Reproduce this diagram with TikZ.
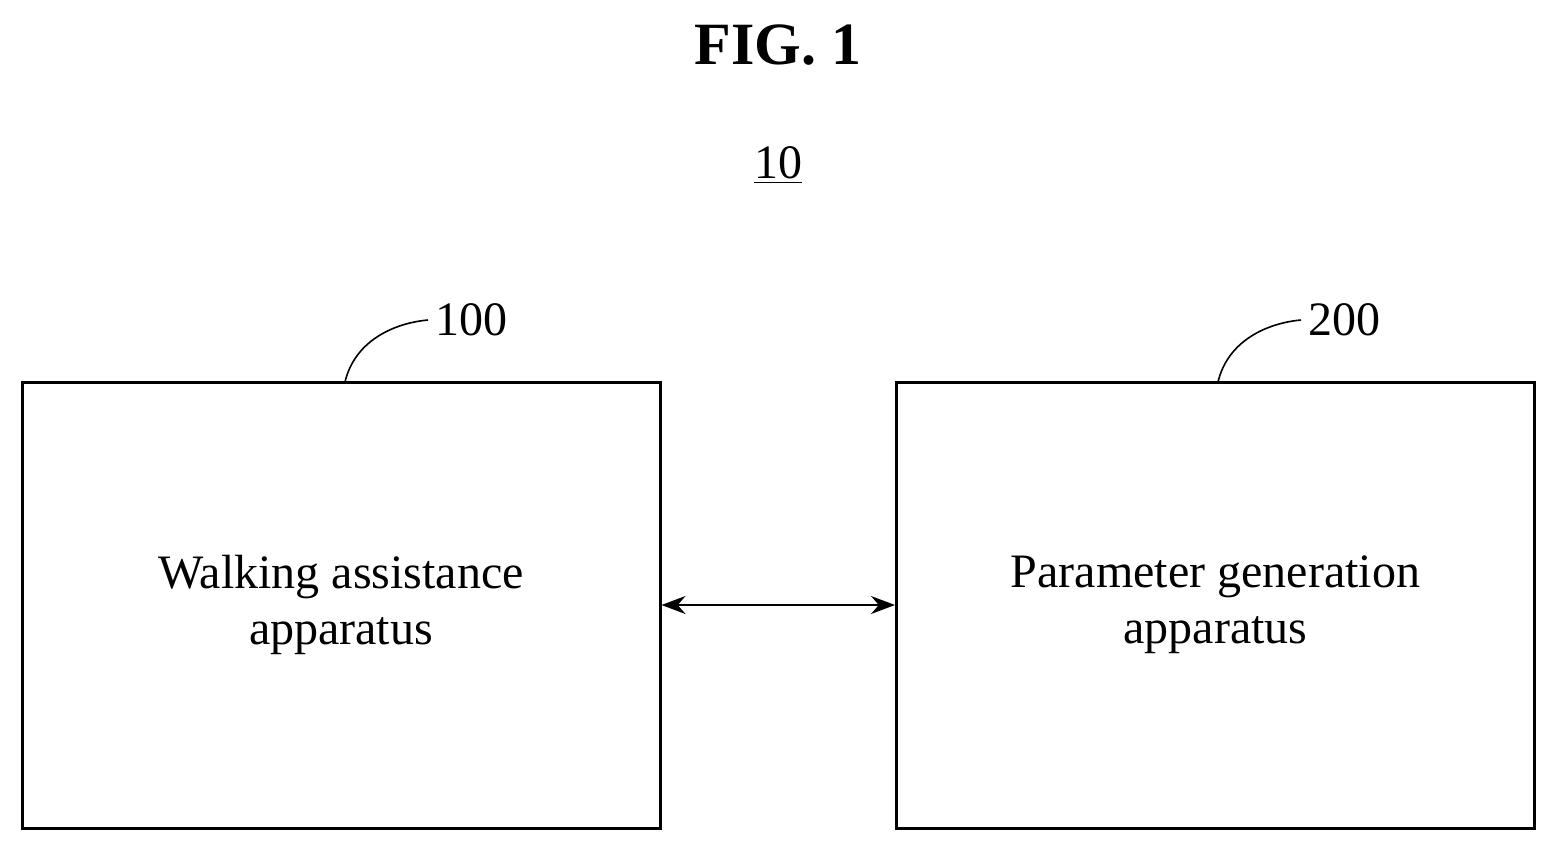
\documentclass[tikz,border=0pt]{standalone}
\usepackage{fontspec}
\setmainfont{Liberation Serif}
\usetikzlibrary{arrows.meta}
\begin{document}
\begin{tikzpicture}[x=0.5pt,y=-0.5pt,
  block/.style={draw, line width=1.5pt, minimum width=319pt, minimum height=223pt, align=center, font=\fontsize{24}{28}\selectfont},
  ref/.style={font=\fontsize{24}{28}\selectfont}]
\useasboundingbox (0,0) rectangle (1556,851);
\node[font=\bfseries\fontsize{30}{34}\selectfont] (fig) at (778,45) {FIG. 1};
\node[ref] (sys) at (778,165) {\underline{10}};
\node[block] (walk) at (341,605) {Walking assistance\\apparatus};
\node[block] (param) at (1215.5,605) {Parameter generation\\apparatus};
\node[ref, anchor=west] (l100) at (428,320) {100};
\node[ref, anchor=west] (l200) at (1301,320) {200};
\draw[line width=0.8pt] (345,382) .. controls (355,340) and (395,323) .. (l100.west);
\draw[line width=0.8pt] (1218,382) .. controls (1228,340) and (1268,323) .. (l200.west);
\draw[line width=1pt, {Stealth[length=12pt]}-{Stealth[length=12pt]}] (walk.east) -- (param.west);
\end{tikzpicture}
\end{document}
